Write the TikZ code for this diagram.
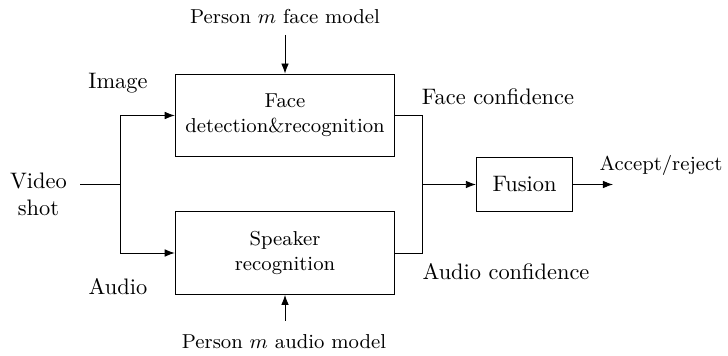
\documentclass[tikz,border=0pt]{standalone}
\usetikzlibrary{positioning,arrows.meta}
\tikzset{
  blk/.style={draw,align=center,font=\small,minimum width=98pt,minimum height=37pt,inner sep=2pt},
  lbl/.style={align=center,inner sep=0pt}
}
\begin{document}
\begin{tikzpicture}[x=0.4464pt,y=-0.4464pt,>={Latex[length=4.5pt,width=3.4pt]}]
        \useasboundingbox (0,0) rectangle (728,356);
        \node[blk] (face) at (285,115.5) {Face\\detection\&recognition};
        \node[blk] (speaker) at (285,253) {Speaker\\recognition};
        \node[blk,font=\normalsize,minimum width=43pt,minimum height=24.5pt] (fusion) at (524.5,184.5) {Fusion};
        \node[lbl] (video) at (38.5,194) {Video\\shot};
        \node[lbl] (image) at (118,83) {Image};
        \node[lbl] (audio) at (118,287) {Audio};
        \node[lbl] (faceconf) at (498,97) {Face confidence};
        \node[lbl] (audioconf) at (506,272) {Audio confidence};
        \node[lbl,font=\small] (facemodel) at (285,17) {Person $m$ face model};
        \node[lbl,font=\small] (audiomodel) at (284,342) {Person $m$ audio model};
        \node[lbl,font=\small] (decision) at (661,165) {Accept/reject};
        \coordinate (vin) at (80,184.5);
        \coordinate (split) at (120,184.5);
        \coordinate (join) at (422,184.5);
        \coordinate (fm) at (285,35);
        \coordinate (am) at (285,321);
        \coordinate (out) at (613,184.5);
        \draw (vin) -- (split);
        \draw[->] (split) |- (face.west);
        \draw[->] (split) |- (speaker.west);
        \draw (face.east) -| (join);
        \draw (speaker.east) -| (join);
        \draw[->] (join) -- (fusion.west);
        \draw[->] (fusion.east) -- (out);
        \draw[->] (fm) -- (face.north);
        \draw[->] (am) -- (speaker.south);
    \end{tikzpicture}
\end{document}
